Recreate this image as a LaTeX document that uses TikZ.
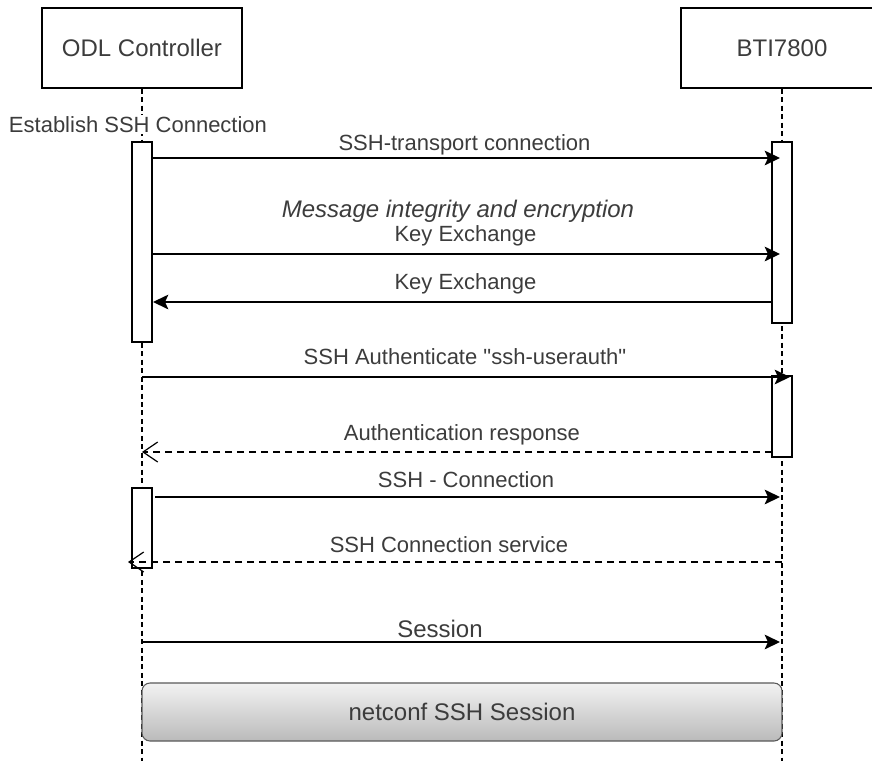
\documentclass[tikz,border=0pt]{standalone}
\usepackage{fontspec}
\setmainfont{Liberation Sans}[Ligatures=TeXOff]
\usetikzlibrary{arrows.meta}
\definecolor{txt}{RGB}{60,60,60}
\begin{document}
\begin{tikzpicture}[x=0.75pt,y=-0.75pt,line width=1.1pt,
  lbl/.style={anchor=base,text=txt,font=\fontsize{16.5}{18}\selectfont,inner sep=0pt},
  biglbl/.style={anchor=base,text=txt,font=\fontsize{18}{20}\selectfont,inner sep=0pt},
  actorbox/.style={draw,fill=white,minimum height=60pt,text=txt,font=\fontsize{18}{20}\selectfont,inner sep=0pt},
  actbar/.style={draw,fill=white,minimum width=15pt,inner sep=0pt},
  lifeline/.style={line width=1pt,dash pattern=on 3.75pt off 2.6pt},
  msg/.style={-{Stealth[length=11.5pt,width=11pt,inset=2.5pt]}},
  reply/.style={dash pattern=on 5.5pt off 3.5pt,-{Straight Barb[length=11pt,width=15pt,line width=0.9pt]}}]
\useasboundingbox (0,0) rectangle (872,761);
\clip (0,0) rectangle (872,761);
% actors
\node[actorbox,minimum width=150pt] (odl) at (142,48) {ODL Controller};
\node[actorbox,minimum width=151.5pt] (bti) at (782,48) {BTI7800};
% lifelines
\coordinate (odlend) at (142,761);
\coordinate (btiend) at (782,761);
\draw[lifeline] (odl.south) -- (odlend);
\draw[lifeline] (bti.south) -- (btiend);
% activations
\node[actbar,minimum height=150pt] (oa1) at (142,242) {};
\node[actbar,minimum height=135.75pt] (ba1) at (782,232.5) {};
\node[actbar,minimum height=60.75pt] (ba2) at (782,416.5) {};
\node[actbar,minimum height=60pt] (oa2) at (142,528) {};
% label of the fragment
\node[lbl,fill=white,inner sep=1pt] (est) at (138,132) {Establish SSH Connection};
% message coordinates
\coordinate (m1s) at (152,158); \coordinate (m1e) at (780,158);
\coordinate (m2s) at (152,254); \coordinate (m2e) at (780,254);
\coordinate (m3s) at (772,302); \coordinate (m3e) at (153,302);
\coordinate (m4s) at (142,377); \coordinate (m4e) at (790,377);
\coordinate (m5s) at (772,452); \coordinate (m5e) at (142,452);
\coordinate (m6s) at (155,497); \coordinate (m6e) at (780,497);
\coordinate (m7s) at (782,562); \coordinate (m7e) at (128,562);
\coordinate (m8s) at (142,642); \coordinate (m8e) at (780,642);
% messages
\draw[msg] (m1s) -- (m1e);
\draw[msg] (m2s) -- (m2e);
\draw[msg] (m3s) -- (m3e);
\draw[msg] (m4s) -- (m4e);
\draw[reply] (m5s) -- (m5e);
\draw[msg] (m6s) -- (m6e);
\draw[reply] (m7s) -- (m7e);
\draw[msg] (m8s) -- (m8e);
% labels
\node[lbl] (l1) at (464.5,150) {SSH-transport connection};
\node[biglbl,font=\fontsize{18}{20}\selectfont\itshape] (l1b) at (458,217) {Message integrity and encryption};
\node[lbl] (l2) at (465.5,241) {Key Exchange};
\node[lbl] (l3) at (465.5,289) {Key Exchange};
\node[lbl] (l4) at (465,364) {SSH Authenticate "ssh-userauth"};
\node[lbl] (l5) at (462,440) {Authentication response};
\node[lbl] (l6) at (466,487) {SSH - Connection};
\node[lbl] (l7) at (449,552) {SSH Connection service};
\node[biglbl] (l8) at (440,637) {Session};
% netconf session box
\node[draw=black!65,line width=0.8pt,rounded corners=6pt,top color=black!5,bottom color=black!27,
      minimum width=480pt,minimum height=43.5pt,text=txt,font=\fontsize{18}{20}\selectfont,inner sep=0pt]
      (ncs) at (462,712) {netconf SSH Session};
\end{tikzpicture}
\end{document}
